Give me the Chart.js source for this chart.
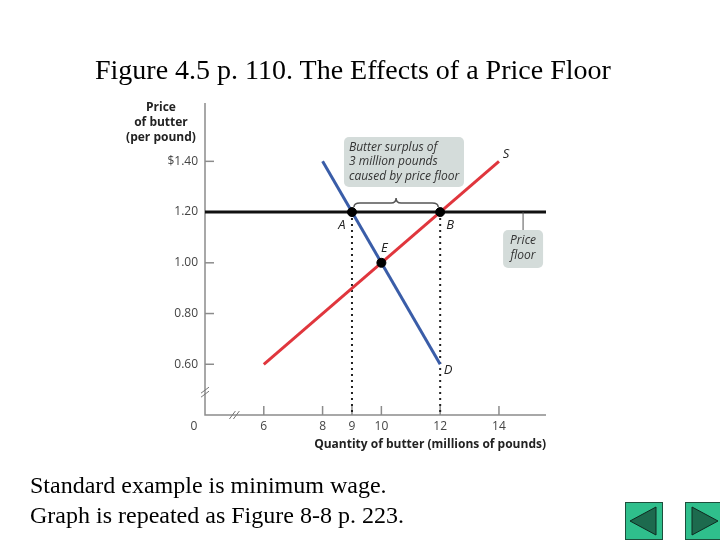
<!DOCTYPE html>
<html>
<head>
<meta charset="utf-8">
<script src="https://cdn.jsdelivr.net/npm/chart.js@4/dist/chart.umd.min.js"></script>
<style>
  body { margin: 0; background: #fff; }
  #wrap { position: relative; width: 720px; height: 540px; overflow: hidden; }
  #graph { position: absolute; left: 0; top: 0; }
  .txt { position: absolute; font-family: "Liberation Serif", "Times New Roman", serif; color: #000; white-space: nowrap; line-height: 1; }
  #title { left: 95px; top: 56px; font-size: 28px; }
  #foot1 { left: 30px; top: 473px; font-size: 24px; }
  #foot2 { left: 30px; top: 503px; font-size: 24px; }
  .btn { position: absolute; top: 502px; }
</style>
</head>
<body>
<div id="wrap">
  <canvas id="graph" width="720" height="540"></canvas>
  <div class="txt" id="title">Figure 4.5 p. 110. The Effects of a Price Floor</div>
  <div class="txt" id="foot1">Standard example is minimum wage.</div>
  <div class="txt" id="foot2">Graph is repeated as Figure 8-8 p. 223.</div>
  <svg class="btn" style="left:625px" width="38" height="38">
    <rect x="0.5" y="0.5" width="37" height="37" fill="#2fbf8c" stroke="#1d4f3c"/>
    <polygon points="5,19 31,5 31,33" fill="#1d6a4e" stroke="#0f2a20"/>
  </svg>
  <svg class="btn" style="left:685px" width="38" height="38">
    <rect x="0.5" y="0.5" width="37" height="37" fill="#2fbf8c" stroke="#1d4f3c"/>
    <polygon points="7,5 33,19 7,33" fill="#1d6a4e" stroke="#0f2a20"/>
  </svg>
</div>
<script>
// quantity in millions of pounds, price in $ per pound
var qtyTicks = [6, 8, 9, 10, 12, 14];
var priceTicks = [0.60, 0.80, 1.00, 1.20, 1.40];
var priceLabels = ['0.60', '0.80', '1.00', '1.20', '$1.40'];

var supplyQty = [6, 14];
var supplyPrice = [0.60, 1.40];
var demandQty = [8, 12];
var demandPrice = [1.40, 0.60];

var floorPrice = 1.20;
var floorQty = [4, 15.6];

var pointNames = ['A', 'B', 'E'];
var pointQty = [9, 12, 10];
var pointPrice = [1.20, 1.20, 1.00];

var toXY = function(xs, ys) {
    var out = [];
    for (var i = 0; i < xs.length; i++) out.push({x: xs[i], y: ys[i]});
    return out;
};

var sans = '"Open Sans", "Noto Sans", sans-serif';

var axesPlugin = {
    id: 'axesPlugin',
    beforeDatasetsDraw: function(chart) {
        var ctx = chart.ctx, xs = chart.scales.x, ys = chart.scales.y;
        var left = xs.left, bottom = ys.bottom;
        ctx.save();
        ctx.strokeStyle = '#8c8c8c';
        ctx.lineWidth = 1.5;
        ctx.beginPath();
        ctx.moveTo(left, ys.top);
        ctx.lineTo(left, bottom);
        ctx.lineTo(xs.right, bottom);
        ctx.stroke();

        ctx.fillStyle = '#444';
        ctx.font = '12px ' + sans;
        ctx.textBaseline = 'middle';
        ctx.textAlign = 'right';
        priceTicks.forEach(function(v, i) {
            var py = ys.getPixelForValue(v);
            ctx.beginPath();
            ctx.moveTo(left, py);
            ctx.lineTo(left + 9, py);
            ctx.stroke();
            ctx.fillText(priceLabels[i], left - 7, py);
        });
        ctx.textAlign = 'center';
        qtyTicks.forEach(function(v) {
            var px = xs.getPixelForValue(v);
            ctx.beginPath();
            ctx.moveTo(px, bottom);
            ctx.lineTo(px, bottom - 9);
            ctx.stroke();
            ctx.fillText(String(v), px, bottom + 12);
        });
        ctx.fillText('0', left - 11, bottom + 12);

        // axis breaks
        ctx.strokeStyle = '#777';
        ctx.lineWidth = 1;
        var by = ys.getPixelForValue(0.49);
        [-2, 2].forEach(function(d) {
            ctx.beginPath();
            ctx.moveTo(left - 4, by + d + 3);
            ctx.lineTo(left + 4, by + d - 3);
            ctx.stroke();
        });
        var bx = xs.getPixelForValue(5.0);
        [-2, 2].forEach(function(d) {
            ctx.beginPath();
            ctx.moveTo(bx + d - 3, bottom + 4);
            ctx.lineTo(bx + d + 3, bottom - 4);
            ctx.stroke();
        });

        // axis titles
        ctx.fillStyle = '#222';
        ctx.font = 'bold 12px ' + sans;
        ctx.textAlign = 'center';
        ctx.fillText('Price', left - 44, ys.top + 5);
        ctx.fillText('of butter', left - 44, ys.top + 20);
        ctx.fillText('(per pound)', left - 44, ys.top + 35);
        ctx.textAlign = 'right';
        ctx.fillText('Quantity of butter (millions of pounds)', xs.right, bottom + 30);
        ctx.restore();
    },
    afterDatasetsDraw: function(chart) {
        var ctx = chart.ctx, xs = chart.scales.x, ys = chart.scales.y;
        ctx.save();
        var fy = ys.getPixelForValue(floorPrice);
        var xA = xs.getPixelForValue(pointQty[0]);
        var xB = xs.getPixelForValue(pointQty[1]);

        // brace over the surplus
        var top = fy - 11, mid = (xA + xB) / 2;
        ctx.strokeStyle = '#555';
        ctx.lineWidth = 1.5;
        ctx.beginPath();
        ctx.moveTo(xA + 2, fy - 5);
        ctx.quadraticCurveTo(xA + 2, top + 2, xA + 8, top + 2);
        ctx.lineTo(mid - 5, top + 2);
        ctx.quadraticCurveTo(mid, top + 2, mid, top - 3);
        ctx.quadraticCurveTo(mid, top + 2, mid + 5, top + 2);
        ctx.lineTo(xB - 8, top + 2);
        ctx.quadraticCurveTo(xB - 2, top + 2, xB - 2, fy - 5);
        ctx.stroke();

        var box = function(x, y, w, h) {
            ctx.fillStyle = '#d4dcda';
            ctx.beginPath();
            ctx.roundRect(x, y, w, h, 5);
            ctx.fill();
        };
        ctx.font = 'italic 12px ' + sans;
        ctx.textBaseline = 'middle';
        ctx.textAlign = 'left';
        box(xA - 8, fy - 75, 120, 50);
        ctx.fillStyle = '#333';
        ctx.fillText('Butter surplus of', xA - 3, fy - 64);
        ctx.fillText('3 million pounds', xA - 3, fy - 50);
        ctx.fillText('caused by price floor', xA - 3, fy - 35);

        // price floor callout
        var cx = xs.getPixelForValue(14.82);
        ctx.strokeStyle = '#555';
        ctx.lineWidth = 1;
        ctx.beginPath();
        ctx.moveTo(cx, fy);
        ctx.lineTo(cx, fy + 18);
        ctx.stroke();
        box(cx - 20, fy + 18, 40, 38);
        ctx.fillStyle = '#333';
        ctx.textAlign = 'center';
        ctx.fillText('Price', cx, fy + 29);
        ctx.fillText('floor', cx, fy + 44);

        // point and curve letters
        ctx.font = 'italic 13px ' + sans;
        ctx.fillStyle = '#222';
        var offs = [[-10, 13], [10, 13], [3, -15]];
        pointNames.forEach(function(n, i) {
            ctx.fillText(n, xs.getPixelForValue(pointQty[i]) + offs[i][0], ys.getPixelForValue(pointPrice[i]) + offs[i][1]);
        });
        ctx.fillText('S', xs.getPixelForValue(supplyQty[1]) + 7, ys.getPixelForValue(supplyPrice[1]) - 7);
        ctx.fillText('D', xs.getPixelForValue(demandQty[1]) + 8, ys.getPixelForValue(demandPrice[1]) + 6);
        ctx.restore();
    }
};

// first dataset is drawn on top
var chart = new Chart(document.getElementById('graph'), {
    type: 'scatter',
    data: {
        datasets: [
            {data: toXY(pointQty, pointPrice), showLine: false, backgroundColor: '#000', borderColor: '#000',
             pointBackgroundColor: '#000', pointBorderColor: '#000', pointRadius: 4.5, pointBorderWidth: 1},
            {data: toXY(demandQty, demandPrice), showLine: true, borderColor: '#3a5da8', borderWidth: 3, pointRadius: 0},
            {data: toXY(supplyQty, supplyPrice), showLine: true, borderColor: '#e0363d', borderWidth: 3, pointRadius: 0},
            {data: toXY(floorQty, [floorPrice, floorPrice]), showLine: true, borderColor: '#111', borderWidth: 3, pointRadius: 0},
            {data: toXY([pointQty[0], pointQty[0]], [floorPrice, 0.4]), showLine: true, borderColor: '#222', borderWidth: 2, borderDash: [2, 4], pointRadius: 0},
            {data: toXY([pointQty[1], pointQty[1]], [floorPrice, 0.4]), showLine: true, borderColor: '#222', borderWidth: 2, borderDash: [2, 4], pointRadius: 0}
        ]
    },
    options: {
        responsive: false,
        animation: false,
        layout: {padding: {left: 205, right: 174, top: 103, bottom: 125}},
        scales: {
            x: {type: 'linear', min: 4, max: 15.6, display: false},
            y: {type: 'linear', min: 0.4, max: 1.63, display: false}
        },
        plugins: {legend: {display: false}, tooltip: {enabled: false}}
    },
    plugins: [axesPlugin]
});
</script>
</body>
</html>
